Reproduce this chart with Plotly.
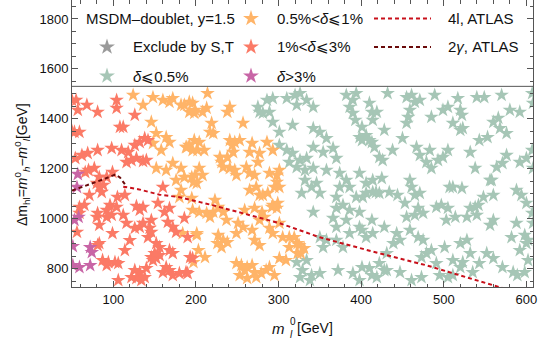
import plotly.graph_objects as go

# ---------------- data ----------------
red_x = [55,57,68,81,104,104,108,112,126,53,59,54,62,69,81,98,110,118,126,132,138,142,116,122,128,136,140,66,70,77,83,92,99,88,80,83,71,59,65,86,105,114,96,104,92,128,132,136,59,80,83,81,92,98,112,116,132,136,146,144,56,99,126,142,146,83,114,94,102,106,92,106,126,132,140,128,134,138,122,152,156,146,152,156,164,168,160,168,172,172,180,188,166,172,176,162,168,154,190,186,193,196,190,160,81,87,120,148,150,50,50]
red_y = [1475,1435,1455,1427,1475,1443,1367,1367,1415,1347,1347,1242,1254,1262,1274,1282,1274,1266,1294,1306,1322,1314,1226,1234,1242,1230,1234,1186,1194,1202,1166,1166,1186,1134,1142,1126,1094,1046,1054,1106,1086,1094,1054,1046,1034,1050,1034,1046,1022,1006,974,1022,1006,1014,1014,982,966,982,994,962,946,941,962,925,946,901,873,825,825,821,813,753,793,785,801,761,753,765,765,901,885,845,841,853,805,793,785,873,861,773,781,785,986,966,946,1026,1042,1062,925,1002,845,841,781,1126,893,833,913,833,861,1475,1350]

purple_x = [57,56,53,58,51,72,74,51,59,72]
purple_y = [1178,1126,994,1006,889,885,865,813,805,813]

orange_x = [124,136,148,160,168,172,182,192,199,146,152,148,158,164,168,189,196,152,164,172,182,176,186,199,201,182,195,180,201,184,
            214,196,186,192,198,208,213,241,238,257,219,217,221,198,192,188,204,202,210,241,247,253,244,245,268,265,277,286,293,275,229,231,238,233,241,247,249,204,208,195,197,265,271,261,289,298,301,298,301,295,265,273,277,281,287,293,298,292,299,259,271,280,277,283,223,227,233,221,196,204,213,217,237,251,257,268,289,293,301,305,227,233,226,231,238,201,249,203,211,197,271,277,313,319,323,313,325,331,327,323,301,309,249,255,259,262,268,271,253,262,273,279,285,289,295]
orange_y = [1495,1455,1486,1475,1467,1482,1455,1467,1435,1387,1342,1302,1274,1326,1306,1286,1274,1202,1194,1222,1202,1154,1166,1174,1142,1114,1082,1086,941,941,
            1502,1463,1455,1427,1423,1427,1443,1447,1427,1383,1383,1347,1342,1314,1294,1286,1306,1274,1274,1314,1306,1314,1294,1266,1302,1266,1262,1306,1274,1226,1246,1226,1246,1206,1202,1194,1174,1202,1174,1166,1146,1182,1174,1206,1182,1174,1194,1146,1126,1126,1114,1126,1094,1094,1102,1054,1042,1046,1062,1034,1042,1026,994,1006,1074,1046,1026,1026,1034,1026,1022,1006,994,982,966,954,962,941,982,925,934,914,901,885,905,934,941,873,845,825,914,893,925,925,901,885,893,881,861,861,841,833,821,813,793,805,813,785,773,761,765,781,793,805,773]

green_x = [275,286,293,289,281,277,310,320,326,334,342,322,317,342,350,358,293,301,301,310,317,313,326,334,322,332,342,354,366,370,358,342,382,390,394,386,390,393,401,413,414,406,398,413,374,382,386,374,370,332,340,346,328,350,398,406,414,394,406,418,370,378,386,398,366,382,370,398,413,342,358,370,378,386,401,406,414,350,354,329,340,350,326,338,372,390,401,413,398,322,334,
           410,419,428,432,455,461,471,465,459,457,455,489,485,499,505,517,520,522,511,520,523,540,549,570,580,592,607,608,560,566,568,576,543,553,401,410,416,422,426,438,450,467,471,479,485,493,499,505,483,532,538,564,558,576,571,592,600,607,608,425,402,414,422,434,444,453,459,461,465,471,469,465,455,475,491,497,505,507,511,522,503,514,532,538,542,548,556,560,528,540,556,560,588,594,600,607,588,582,598,602,608,428,443,447,439,431,422,428,410,459,469,475,479,485,473,491,501,511,520,528,532,520,523,535,543,552,560,571,584,592,600,602,419,431,447,461,473,495,505,511,589,598]
green_y = [1447,1475,1482,1427,1423,1427,1482,1495,1502,1475,1447,1455,1375,1362,1347,1322,1387,1347,1294,1274,1262,1226,1234,1242,1206,1194,1286,1266,1282,1242,1194,1202,1495,1475,1502,1447,1423,1395,1367,1427,1395,1334,1326,1306,1182,1154,1126,1126,1086,1154,1126,1142,1102,1102,1182,1142,1154,1086,1102,1106,1042,1054,1034,1026,1002,994,966,966,994,1026,914,914,885,941,954,925,941,925,885,793,773,781,765,753,793,781,805,773,753,825,833,
           1463,1427,1355,1502,1486,1495,1475,1467,1435,1407,1383,1495,1407,1435,1447,1482,1435,1415,1383,1355,1362,1486,1486,1495,1435,1427,1502,1463,1387,1403,1362,1342,1314,1326,1314,1314,1286,1246,1234,1274,1322,1286,1254,1226,1202,1234,1246,1274,1274,1266,1202,1206,1154,1254,1222,1226,1242,1274,1202,1162,1086,1106,1102,1106,1094,1062,1154,1126,1094,1102,1042,1014,1006,1022,1046,1054,1042,1126,1126,1122,994,1006,1042,1046,1054,1086,1154,1094,1006,1014,974,994,1114,1094,1062,1022,982,925,934,914,982,966,941,914,901,861,821,793,801,954,925,914,861,873,845,821,885,833,901,914,861,805,825,785,821,861,841,805,785,873,901,833,765,793,785,753,765,773,765,773,773,785]

# exclusion curves
gamma_x = [50, 70, 90, 102, 108, 114]
gamma_y = [1112, 1135, 1160, 1176, 1165, 1138]
fourl_x = [112, 130, 156, 180, 205, 220, 301, 350, 422, 479, 572]
fourl_y = [1128, 1118, 1096, 1086, 1066, 1054, 982, 925, 861, 813, 721]

x_ticks = [100, 200, 300, 400, 500, 600]
y_ticks = [800, 1000, 1200, 1400, 1600, 1800]

# colours
C_GREEN = "#a6c6b6"
C_ORANGE = "#ffb468"
C_RED = "#fb7a66"
C_PURPLE = "#c865a6"
C_GRAY = "#9a9a9a"
C_4L = "#c8101a"
C_2G = "#6a0a0a"

FONT = "Liberation Sans, Arial, sans-serif"
MS = 11
LEG_FS = 15
TICK_FS = 13

fig = go.Figure()

def stars(x, y, c):
    fig.add_trace(go.Scatter(x=x, y=y, mode="markers", showlegend=False,
                             marker=dict(symbol="star", size=MS, color=c, line=dict(width=0))))

stars(green_x, green_y, C_GREEN)
stars(orange_x, orange_y, C_ORANGE)
stars(red_x, red_y, C_RED)
stars(purple_x, purple_y, C_PURPLE)

fig.add_trace(go.Scatter(x=fourl_x, y=fourl_y, mode="lines", showlegend=False,
                         line=dict(color=C_4L, width=2, dash="4px,3px")))
fig.add_trace(go.Scatter(x=gamma_x, y=gamma_y, mode="lines", showlegend=False,
                         line=dict(color=C_2G, width=2, dash="4px,3px")))

# ---------------- hand-built legend (paper-fraction overlay axes) ----------------
W0, W1, H1 = 72.0, 533.0, 287.0
def px(v): return (v - W0) / (W1 - W0)
def py(v): return (H1 - v) / H1

rows = [18.5, 47, 76]
leg_star_x = [px(251), px(107), px(251), px(107), px(251)]
leg_star_y = [py(rows[0]), py(rows[1]), py(rows[1]), py(rows[2]), py(rows[2])]
leg_star_c = [C_ORANGE, C_GRAY, C_RED, C_GREEN, C_PURPLE]
fig.add_trace(go.Scatter(x=leg_star_x, y=leg_star_y, xaxis="x2", yaxis="y2", mode="markers",
                         showlegend=False, hoverinfo="skip",
                         marker=dict(symbol="star", size=MS + 1, color=leg_star_c, line=dict(width=0))))
for r, c in [(rows[0], C_4L), (rows[1], C_2G)]:
    fig.add_trace(go.Scatter(x=[px(374), px(431)], y=[py(r), py(r)], xaxis="x2", yaxis="y2",
                             mode="lines", showlegend=False, hoverinfo="skip",
                             line=dict(color=c, width=2, dash="4px,3px")))

texts = [
    (84, rows[0], "MSDM\u2013doublet, y=1.5"),
    (275, rows[0], "0.5%<<i>\u03b4</i>\u2a7d1%"),
    (446, rows[0], "4l, ATLAS"),
    (131, rows[1], "Exclude by S,T"),
    (275, rows[1], "1%<<i>\u03b4</i>\u2a7d3%"),
    (446, rows[1], "2<i>\u03b3</i>, ATLAS"),
    (131, rows[2], "<i>\u03b4</i>\u2a7d0.5%"),
    (275, rows[2], "<i>\u03b4</i>>3%"),
]
annotations = []
for x0, y0, t in texts:
    annotations.append(dict(x=px(x0), y=py(y0), xref="paper", yref="paper", text=t,
                            showarrow=False, xanchor="left", yanchor="middle",
                            font=dict(family=FONT, size=LEG_FS, color="#111")))

# x-axis title with stacked super/subscript
TC = "#111"
annotations += [
    dict(x=px(287), y=py(328), xref="paper", yref="paper", text="<i>m</i>", showarrow=False,
         xanchor="right", yanchor="middle", font=dict(family=FONT, size=LEG_FS, color=TC)),
    dict(x=px(287.5), y=py(321), xref="paper", yref="paper", text="0", showarrow=False,
         xanchor="left", yanchor="middle", font=dict(family=FONT, size=10, color=TC)),
    dict(x=px(287.5), y=py(334), xref="paper", yref="paper", text="<i>l</i>", showarrow=False,
         xanchor="left", yanchor="middle", font=dict(family=FONT, size=10, color=TC)),
    dict(x=px(295), y=py(328), xref="paper", yref="paper", text="[GeV]", showarrow=False,
         xanchor="left", yanchor="middle", font=dict(family=FONT, size=LEG_FS - 1, color=TC)),
]
annotations.append(dict(x=px(22), y=py(165), xref="paper", yref="paper", textangle=-90,
                        text="\u0394m<sub>hl</sub>=<i>m</i><sup>0</sup><sub><i>h</i></sub>\u2212<i>m</i><sup>0</sup><sub><i>l</i></sub>[GeV]",
                        showarrow=False, xanchor="center", yanchor="middle",
                        font=dict(family=FONT, size=14, color=TC)))

shapes = [dict(type="line", xref="paper", yref="y", x0=0, x1=1, y0=1530, y1=1530,
               line=dict(color="#555", width=1))]

axis_common = dict(showgrid=False, zeroline=False, showline=True, linecolor="#555", linewidth=1,
                   mirror="ticks", ticks="inside", ticklen=6, tickcolor="#555", automargin=False,
                   tickfont=dict(family=FONT, size=TICK_FS, color="#111"))

fig.update_layout(
    width=540, height=346,
    margin=dict(l=72, r=7, t=0, b=59, autoexpand=False),
    paper_bgcolor="white", plot_bgcolor="white",
    xaxis=dict(range=[50, 608], tickvals=x_ticks,
               minor=dict(dtick=20, tick0=0, ticks="inside", ticklen=3.5, tickcolor="#555"),
               **axis_common),
    yaxis=dict(range=[726, 1876], tickvals=y_ticks,
               minor=dict(dtick=50, tick0=0, ticks="inside", ticklen=3.5, tickcolor="#555"),
               **axis_common),
    xaxis2=dict(overlaying="x", range=[0, 1], visible=False, showgrid=False, automargin=False),
    yaxis2=dict(overlaying="y", range=[0, 1], visible=False, showgrid=False, automargin=False),
    annotations=annotations,
    shapes=shapes,
    showlegend=False,
)

fig.write_html("out.html", config={"displayModeBar": False},
               post_script="document.body.style.margin='0';document.body.style.padding='0';")
